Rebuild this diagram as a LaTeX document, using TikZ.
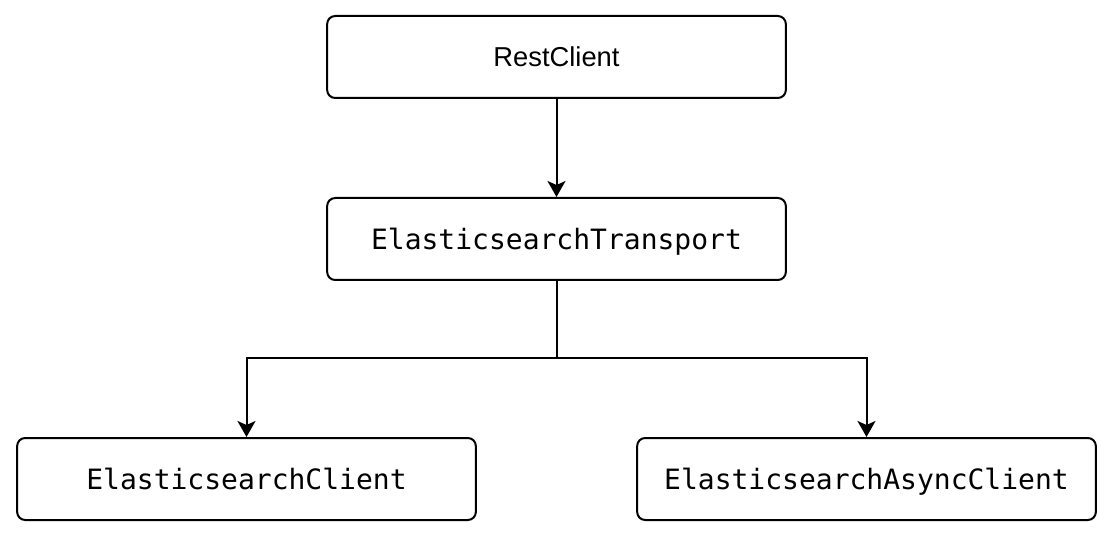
\documentclass[tikz,border=0pt]{standalone}
\usepackage{fontspec}
\setmainfont{Liberation Sans}
\setmonofont{DejaVu Sans Mono}
\usetikzlibrary{arrows.meta}
\begin{document}
\begin{tikzpicture}[x=0.75pt,y=-0.75pt,
  box/.style={draw,line width=1.5pt,rounded corners=6pt,minimum width=344pt,minimum height=61.5pt,inner sep=0pt},
  sanslabel/.style={font=\fontsize{20.5}{24}\selectfont},
  monolabel/.style={font=\ttfamily\fontsize{21}{24}\selectfont,text height=20pt,text depth=4pt},
  conn/.style={line width=1.5pt,-{Stealth[length=12pt,width=13.5pt,inset=3pt]}}]
\useasboundingbox (0,0) rectangle (1114,538);
\node[box,sanslabel] (rest) at (556.5,57) {RestClient};
\node[box,monolabel] (trans) at (556.5,239) {ElasticsearchTransport};
\node[box,monolabel] (client) at (246.5,479) {ElasticsearchClient};
\node[box,monolabel] (async) at (866.5,479) {ElasticsearchAsyncClient};
\coordinate (split) at (556.5,358);
\draw[conn] (rest.south) -- (trans.north);
\draw[line width=1.5pt] (trans.south) -- (split);
\draw[conn] (split) -| (client.north);
\draw[conn] (split) -| (async.north);
\end{tikzpicture}
\end{document}
